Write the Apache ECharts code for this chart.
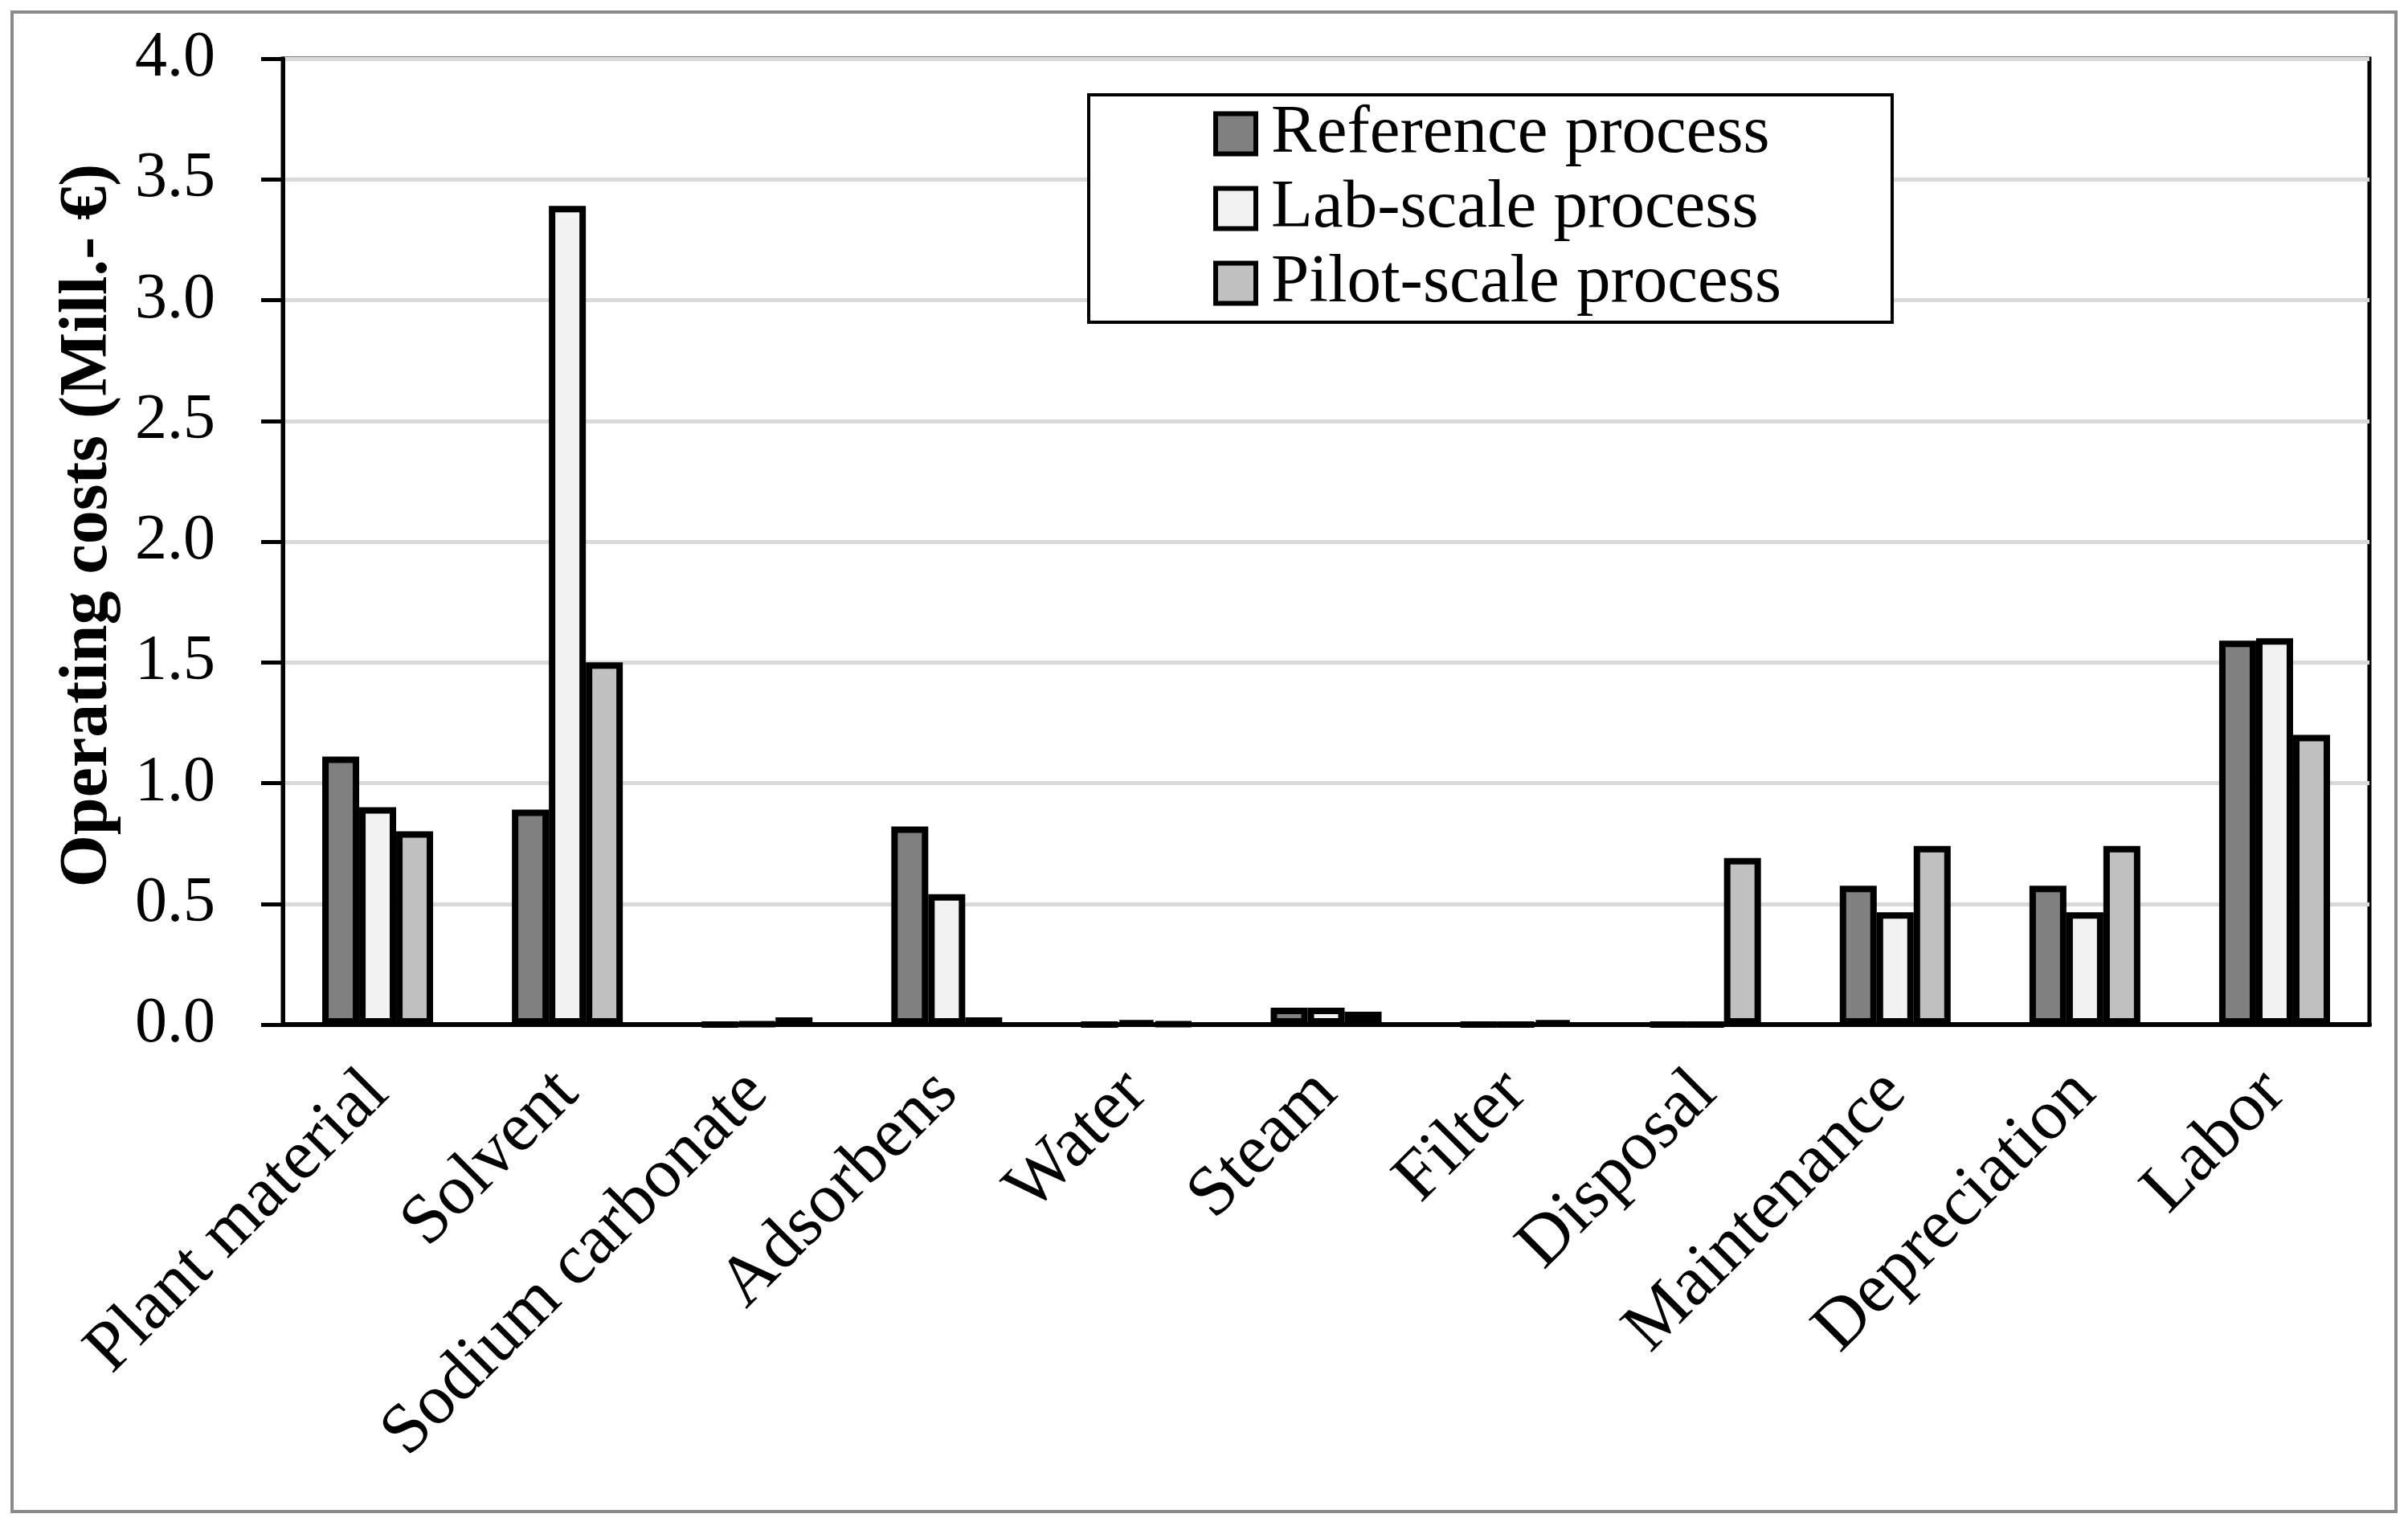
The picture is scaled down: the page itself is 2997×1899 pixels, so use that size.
<!DOCTYPE html>
<html>
<head>
<meta charset="utf-8">
<script src="https://cdn.jsdelivr.net/npm/echarts@6/dist/echarts.min.js"></script>
<style>
  html, body { margin: 0; padding: 0; background: #fff; }
  #main { width: 2997px; height: 1899px; }
</style>
</head>
<body>
<div id="main"></div>
<script>
// data
var categories = ['Plant material', 'Solvent', 'Sodium carbonate', 'Adsorbens', 'Water', 'Steam', 'Filter', 'Disposal', 'Maintenance', 'Depreciation', 'Labor']
var referenceProcess = [1.11, 0.89, 0, 0.82, 0, 0.07, 0, 0, 0.575, 0.575, 1.59]
var labScaleProcess = [0.90, 3.39, 0.003, 0.54, 0.012, 0.07, 0, 0, 0.465, 0.465, 1.60]
var pilotScaleProcess = [0.80, 1.50, 0.03, 0.03, 0.003, 0.053, 0.012, 0.69, 0.74, 0.74, 1.20]
var yTicks = [0, 0.5, 1, 1.5, 2, 2.5, 3, 3.5, 4]

var font = 'Liberation Serif'

var myChart = echarts.init(document.getElementById('main'))

function bar(name, data, color) {
  return {
    name: name,
    type: 'bar',
    data: data,
    barWidth: 46,
    barGap: '0%',
    itemStyle: { color: color, borderColor: '#000', borderWidth: 8 }
  }
}

var option = {
  backgroundColor: '#fff',
  animation: false,
  graphic: [{
    type: 'rect',
    shape: { x: 15, y: 15, width: 2967, height: 1866 },
    style: { fill: 'none', stroke: '#8a8a8a', lineWidth: 4 }
  }],
  legend: {
    orient: 'vertical',
    left: 1355,
    top: 118,
    padding: [6, 138, 6, 155],
    itemGap: 8,
    itemWidth: 50,
    itemHeight: 50,
    icon: 'rect',
    itemStyle: { borderColor: '#000', borderWidth: 6 },
    backgroundColor: '#fff',
    borderColor: '#000',
    borderWidth: 4,
    textStyle: { fontFamily: font, fontSize: 85, color: '#000', padding: [0, 0, 0, 14] },
    data: ['Reference process', 'Lab-scale process', 'Pilot-scale process']
  },
  grid: {
    left: 352,
    right: 48,
    top: 73,
    bottom: 624,
    show: true,
    borderColor: '#000',
    borderWidth: 5
  },
  xAxis: {
    type: 'category',
    data: categories,
    axisLine: { lineStyle: { color: '#000', width: 6 } },
    axisTick: { length: 34, lineStyle: { color: '#000', width: 5 } },
    axisLabel: {
      interval: 0,
      rotate: 45,
      margin: 72,
      fontFamily: font,
      fontSize: 88,
      color: '#000'
    }
  },
  yAxis: {
    type: 'value',
    min: yTicks[0],
    max: yTicks[yTicks.length - 1],
    interval: 0.5,
    name: 'Operating costs (Mill.- €)',
    nameLocation: 'middle',
    nameGap: 200,
    nameTextStyle: { fontFamily: font, fontSize: 84, fontWeight: 'bold', color: '#000', padding: [0, 0, 0, 40] },
    axisLine: { show: true, lineStyle: { color: '#000', width: 5 } },
    axisTick: { show: true, length: 27, lineStyle: { color: '#000', width: 5 } },
    axisLabel: {
      margin: 84,
      fontFamily: font,
      fontSize: 80,
      color: '#000',
      formatter: function (v) { return v.toFixed(1) }
    },
    splitLine: { lineStyle: { color: '#d9d9d9', width: 5 } }
  },
  series: [
    bar('Reference process', referenceProcess, '#808080'),
    bar('Lab-scale process', labScaleProcess, '#f2f2f2'),
    bar('Pilot-scale process', pilotScaleProcess, '#c0c0c0')
  ]
}

myChart.setOption(option)
</script>
</body>
</html>
